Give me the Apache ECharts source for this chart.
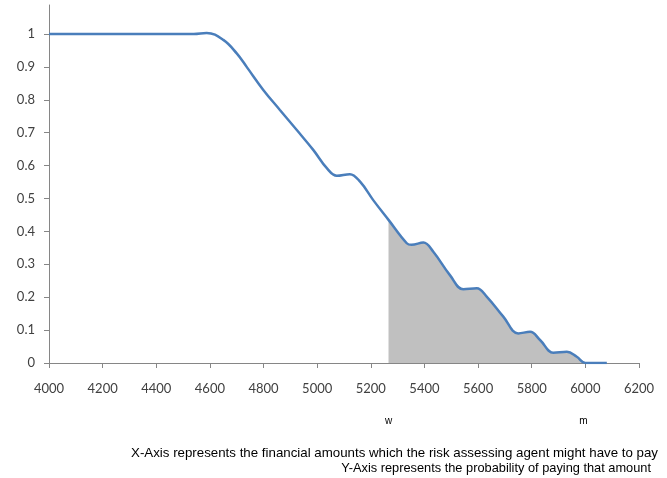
<!DOCTYPE html>
<html>
<head>
<meta charset="utf-8">
<script src="https://cdn.jsdelivr.net/npm/echarts@6/dist/echarts.min.js"></script>
<style>html,body{margin:0;padding:0;background:#fff}#c{width:667px;height:478px}</style>
</head>
<body>
<div id="c"></div>
<script>
// Curve: probability of paying at least the amount
var amounts = [4000, 4200, 4400, 4540, 4588, 4650, 4700, 4737, 4799, 4861, 4924, 4986, 5036, 5073, 5122, 5160, 5209, 5266, 5334, 5352, 5396, 5433, 5495, 5545, 5595, 5632, 5694, 5750, 5794, 5831, 5881, 5931, 5968, 6000, 6080];
var probs   = [1, 1, 1, 1, 1.003, 0.982, 0.941, 0.90, 0.83, 0.769, 0.708, 0.647, 0.592, 0.569, 0.574, 0.551, 0.495, 0.435, 0.364, 0.359, 0.366, 0.338, 0.267, 0.224, 0.227, 0.202, 0.141, 0.09, 0.095, 0.07, 0.031, 0.034, 0.019, 0, 0];
var shadeFrom = 5266;
var shadeTo = 6000;
var xTicks = [4000, 4200, 4400, 4600, 4800, 5000, 5200, 5400, 5600, 5800, 6000, 6200];
var yTicks = [0, 0.1, 0.2, 0.3, 0.4, 0.5, 0.6, 0.7, 0.8, 0.9, 1];
var markLabels = [{text: 'w', value: 5266}, {text: 'm', value: 5993}];
var notes = ['X-Axis represents the financial amounts which the risk assessing agent might have to pay', 'Y-Axis represents the probability of paying that amount'];

var lineData = amounts.map(function (a, i) { return [a, probs[i]]; });
var shadeData = lineData.filter(function (d) { return d[0] >= shadeFrom && d[0] <= shadeTo; });

var chart = echarts.init(document.getElementById('c'), null, {renderer: 'canvas'});
var gridLeft = 49, gridRight = 28, gridTop = 5, gridBottom = 115;
var option = {
  animation: false,
  backgroundColor: '#ffffff',
  grid: {left: gridLeft, right: gridRight, top: gridTop, bottom: gridBottom, containLabel: false},
  xAxis: {
    type: 'value', min: 4000, max: 6200, interval: 200,
    axisLine: {show: true, lineStyle: {color: '#868686', width: 1}},
    axisTick: {show: true, length: 5, lineStyle: {color: '#868686'}},
    splitLine: {show: false},
    axisLabel: {margin: 19, color: '#404040', fontFamily: 'Lato', fontSize: 13,
      customValues: xTicks,
      formatter: function (v) { return String(Math.round(v)); }}
  },
  yAxis: {
    type: 'value', min: 0, max: 1.088, interval: 0.1,
    axisLine: {show: true, lineStyle: {color: '#868686', width: 1}},
    axisTick: {show: true, length: 5, lineStyle: {color: '#868686'}, customValues: yTicks},
    splitLine: {show: false},
    axisLabel: {margin: 14, color: '#404040', fontFamily: 'Lato', fontSize: 13,
      customValues: yTicks,
      formatter: function (v) { return String(Math.round(v * 10) / 10); }}
  },
  series: [
    {
      type: 'line', data: shadeData, smooth: 0.4, symbol: 'none', z: 1,
      lineStyle: {width: 0, opacity: 0},
      areaStyle: {color: '#c0c0c0', opacity: 1, origin: 'start'}
    },
    {
      type: 'line', data: lineData, smooth: 0.4, symbol: 'none', z: 3,
      lineStyle: {color: '#4a7ebb', width: 2.5}
    }
  ]
};
chart.setOption(option);

var gfx = [];
markLabels.forEach(function (m) {
  var p = chart.convertToPixel({gridIndex: 0}, [m.value, 0]);
  gfx.push({type: 'text', x: p[0], y: 421, style: {text: m.text, fontFamily: 'Liberation Sans', fontSize: 10, fill: '#000', align: 'center', verticalAlign: 'middle'}});
});
gfx.push({type: 'text', x: 658, y: 453, style: {text: notes[0], fontFamily: 'Liberation Sans', fontSize: 13.3, fill: '#000', align: 'right', verticalAlign: 'middle'}});
gfx.push({type: 'text', x: 651, y: 468, style: {text: notes[1], fontFamily: 'Liberation Sans', fontSize: 12.8, fill: '#000', align: 'right', verticalAlign: 'middle'}});
chart.setOption({graphic: gfx});
</script>
</body>
</html>
